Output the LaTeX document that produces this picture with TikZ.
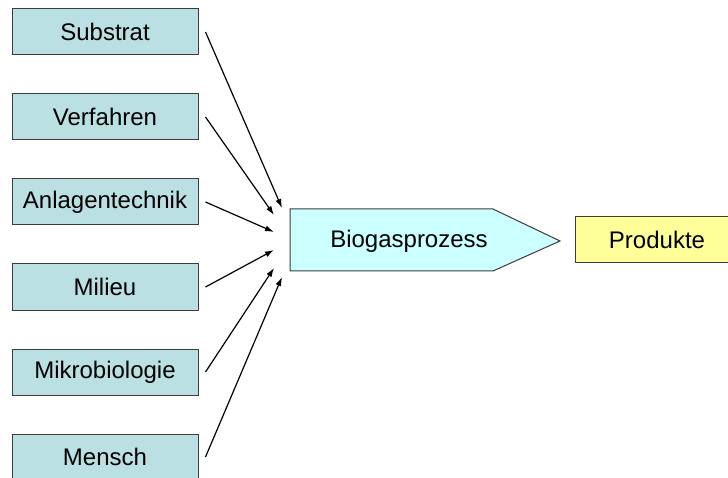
\documentclass[tikz,border=0pt]{standalone}
\usepackage{fontspec}
\setmainfont{Liberation Sans}
\usetikzlibrary{arrows.meta}
\definecolor{leftfill}{RGB}{187,224,227}
\definecolor{biofill}{RGB}{204,255,255}
\definecolor{prodfill}{RGB}{255,255,153}
\definecolor{edge}{RGB}{60,60,60}
\tikzset{
  inbox/.style={draw=edge, line width=1pt, fill=leftfill, minimum width=186pt, minimum height=46pt, inner sep=0pt, font=\fontsize{24}{28}\selectfont},
  lbl/.style={inner sep=0pt, font=\fontsize{24}{28}\selectfont},
  conn/.style={line width=1.2pt, -{Latex[length=9pt,width=6pt]}}
}
\begin{document}
\begin{tikzpicture}[x=1pt,y=-1pt]
\useasboundingbox (0,0) rectangle (728,478);
\clip (0,0) rectangle (728,478);
\node[inbox] (sub) at (105,32) {Substrat};
\node[inbox] (ver) at (105,117) {Verfahren};
\node[inbox] (anl) at (105,202) {Anlagentechnik};
\node[inbox] (mil) at (105,287) {Milieu};
\node[inbox] (mik) at (105,372) {Mikrobiologie};
\node[inbox] (men) at (105,457) {Mensch};
\draw[draw=edge, line width=1pt, fill=biofill] (290,209) -- (493,209) -- (560,241) -- (493,271) -- (290,271) -- cycle;
\node[lbl] (bio) at (409,241) {Biogasprozess};
\draw[draw=edge, line width=1pt, fill=prodfill] (575,217) rectangle (740,263);
\node[lbl] (prod) at (657,240) {Produkte};
\coordinate (e1) at (282,208);
\coordinate (e2) at (274,215);
\coordinate (e3) at (274,232);
\coordinate (e4) at (274,250);
\coordinate (e5) at (274,268);
\coordinate (e6) at (282,277);
\draw[conn] ([xshift=7pt]sub.east) -- (e1);
\draw[conn] ([xshift=7pt]ver.east) -- (e2);
\draw[conn] ([xshift=7pt]anl.east) -- (e3);
\draw[conn] ([xshift=7pt]mil.east) -- (e4);
\draw[conn] ([xshift=7pt]mik.east) -- (e5);
\draw[conn] ([xshift=7pt]men.east) -- (e6);
\end{tikzpicture}
\end{document}
